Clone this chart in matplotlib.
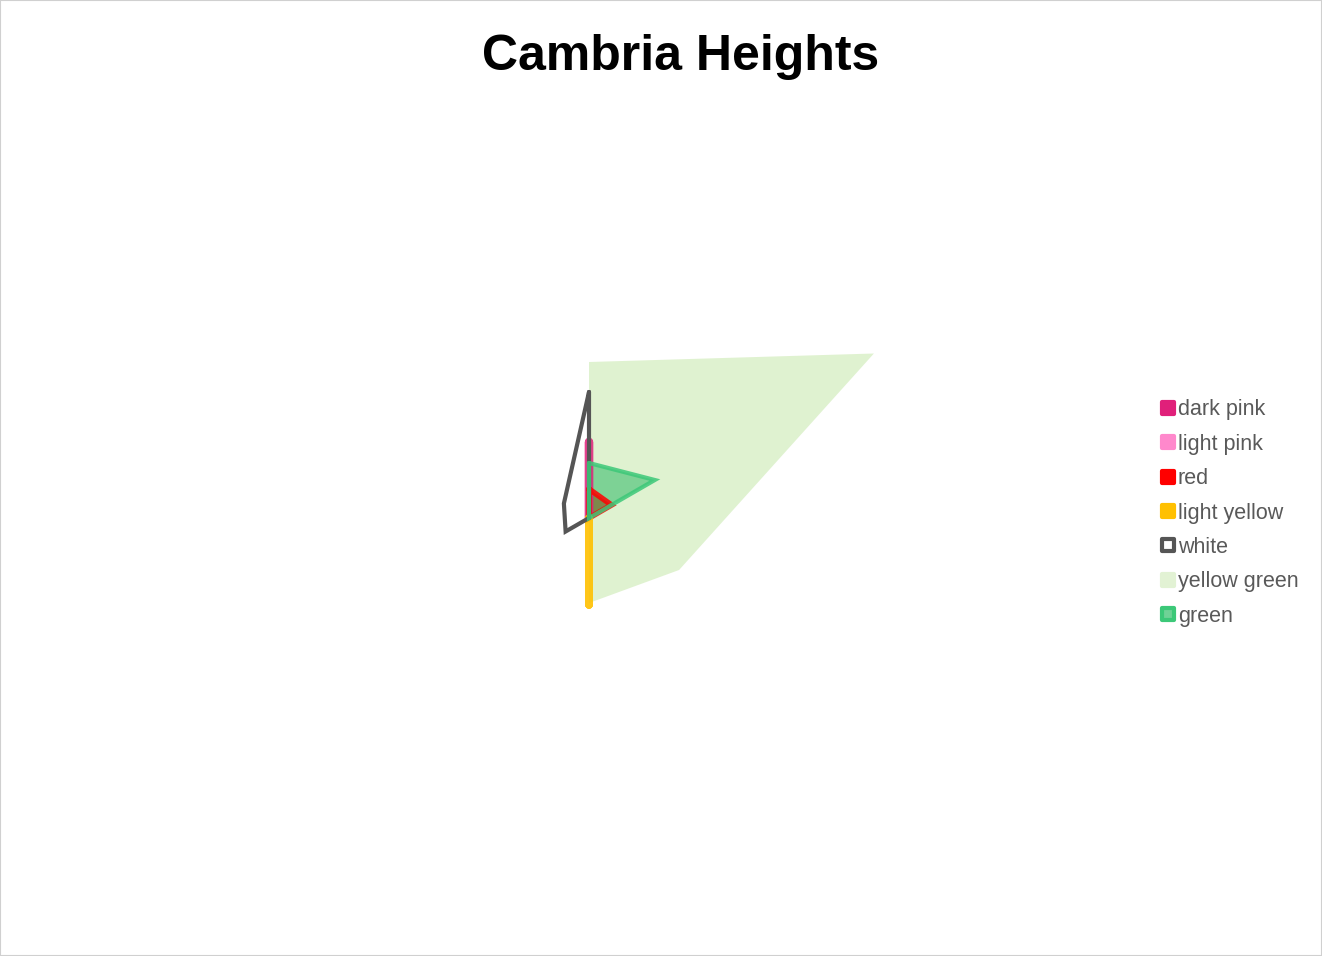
import numpy as np
import matplotlib.pyplot as plt
from matplotlib.lines import Line2D
from matplotlib.markers import MarkerStyle
from matplotlib.patches import Rectangle

# данные: 6 осей радара, значения по часовой стрелке от верхней оси
axes_labels = ['A', 'B', 'C', 'D', 'E', 'F']
series = ['dark pink', 'light pink', 'red', 'light yellow', 'white', 'yellow green', 'green']
dark_pink = [76, 0, 0, 0, 0, 0]
light_pink = [0, 0, 0, 0, 0, 0]
red = [29, 26, 0, 0, 0, 0]
light_yellow = [0, 0, 0, 87, 0, 0]
white = [126, 0, 0, 0, 27, 29]
yellow_green = [156, 329, 104, 85, 0, 0]
green = [55, 76, 0, 0, 0, 0]

values = [dark_pink, light_pink, red, light_yellow, white, yellow_green, green]
edge_colors = ['#E0207A', '#FF88CC', '#FF0000', '#FFC000', '#555555', '#9ACD32', '#3CC878']
fill_colors = ['#E0207A', '#FF88CC', '#FF0000', '#FFC000', 'none', '#A6DA79', '#1DB45C']
fill_alpha = [0.7, 0.7, 0.9, 0.8, 0, 0.35, 0.5]
line_w = [6, 6, 4, 5.5, 3, 0, 3]
line_alpha = [0.85, 0.85, 0.85, 0.9, 1, 0, 0.85]
joins = ['miter', 'miter', 'miter', 'round', 'miter', 'miter', 'miter']

fig = plt.figure(figsize=(13.22, 9.56), dpi=100)
W, H = 1322, 956
cx, cy, R = 589, 518, 400
ax = fig.add_axes([(cx - R) / W, (H - cy - R) / H, 2 * R / W, 2 * R / H], projection='polar')
ax.set_theta_zero_location('N')
ax.set_theta_direction(-1)
ax.set_ylim(0, R)
ax.axis('off')

theta = np.linspace(0, 2 * np.pi, len(axes_labels), endpoint=False)
th = np.append(theta, theta[0])
for v, ec, fc, a, lw, la, js in zip(values, edge_colors, fill_colors, fill_alpha,
                                    line_w, line_alpha, joins):
    r = np.append(v, v[0])
    if fc != 'none':
        ax.fill(th, r, color=fc, alpha=a, lw=0)
    if lw > 0:
        ax.plot(th, r, color=ec, lw=lw, alpha=la,
                solid_capstyle='round', solid_joinstyle=js)

fig.text(681 / W, 1 - 57 / H, 'Cambria Heights', ha='center', va='center', fontsize=36,
         fontweight='bold', family='Liberation Sans')

# легенда
mk_face = ['#E0207A', '#FF88CC', '#FF0000', '#FFC000', 'white', '#E2F2D4', '#6FD296']
mk_edge = ['#E0207A', '#FF88CC', '#FF0000', '#FFC000', '#555555', '#E2F2D4', '#3CC878']
handles = [Line2D([], [], ls='none', marker=MarkerStyle('s', joinstyle='round'),
                  ms=9, mfc=f, mec=e, mew=3)
           for f, e in zip(mk_face, mk_edge)]
leg = fig.legend(handles, series, loc='center left', bbox_to_anchor=(1140 / W, 1 - 513 / H),
                 frameon=False, handlelength=0.8, handletextpad=0.05,
                 labelspacing=0.62, prop={'family': 'Liberation Sans', 'size': 15.5})
for t in leg.get_texts():
    t.set_color('#595959')

fig.patches.append(Rectangle((0, 0), 1, 1, transform=fig.transFigure, fill=False,
                             ec='#D0D0D0', lw=1.5))
fig.savefig('out.png', dpi=100)
